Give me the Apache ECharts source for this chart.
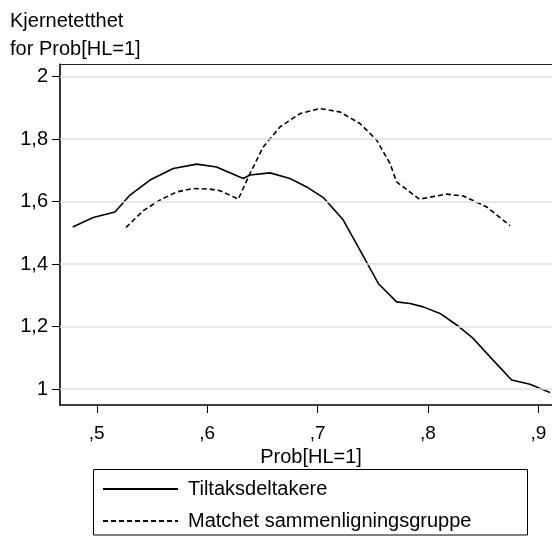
<!DOCTYPE html>
<html><head><meta charset="utf-8">
<script src="https://cdn.jsdelivr.net/npm/echarts@6/dist/echarts.min.js"></script>
<style>html,body{margin:0;padding:0;background:#fff}#c{width:552px;height:536px}</style>
</head><body><div id="c"></div>
<script>
const titleLines = ['Kjernetetthet', 'for Prob[HL=1]'];
const xAxisTitle = 'Prob[HL=1]';
const seriesNames = ['Tiltaksdeltakere', 'Matchet sammenligningsgruppe'];
const xTickValues = [0.5, 0.6, 0.7, 0.8, 0.9];
const xTickLabels = [',5', ',6', ',7', ',8', ',9'];
const yTickValues = [1, 1.2, 1.4, 1.6, 1.8, 2];
const yTickLabels = ['1', '1,2', '1,4', '1,6', '1,8', '2'];

const solidX = [0.4782, 0.4968, 0.5165, 0.5301, 0.5482, 0.5693, 0.5905, 0.6086, 0.6116, 0.6327, 0.6388, 0.6569, 0.6750, 0.6901, 0.7052, 0.7233, 0.7384, 0.7550, 0.7716, 0.7837, 0.7957, 0.8109, 0.8260, 0.8410, 0.8562, 0.8758, 0.8924, 0.9105];
const solidY = [1.519, 1.549, 1.567, 1.621, 1.669, 1.706, 1.720, 1.711, 1.706, 1.674, 1.685, 1.692, 1.674, 1.647, 1.613, 1.541, 1.445, 1.338, 1.279, 1.274, 1.263, 1.242, 1.205, 1.162, 1.103, 1.029, 1.015, 0.989];

const dashX = [0.5264, 0.5421, 0.5572, 0.5724, 0.5874, 0.6025, 0.6116, 0.6282, 0.6388, 0.6508, 0.6659, 0.6841, 0.7022, 0.7203, 0.7384, 0.7535, 0.7656, 0.7716, 0.7922, 0.8169, 0.8320, 0.8532, 0.8743];
const dashY = [1.517, 1.571, 1.605, 1.631, 1.642, 1.640, 1.635, 1.608, 1.690, 1.775, 1.839, 1.882, 1.898, 1.887, 1.850, 1.797, 1.722, 1.663, 1.608, 1.624, 1.618, 1.583, 1.523];

const FONT = "'Liberation Sans', Arial, sans-serif";
const xMin = 0.4667, xMax = 0.9214, yMin = 0.9488, yMax = 2.0397;

function lookup(vals, labels) {
  return function (v) {
    for (let i = 0; i < vals.length; i++) if (Math.abs(vals[i] - v) < 1e-9) return labels[i];
    return '';
  };
}

const chart = echarts.init(document.getElementById('c'), null, {renderer: 'canvas'});
chart.setOption({
  animation: false,
  backgroundColor: '#fff',
  title: {
    text: titleLines.join('\n'), left: 10, top: 7, padding: 0,
    textStyle: {fontSize: 20, fontWeight: 'normal', color: '#000', lineHeight: 28, fontFamily: FONT}
  },
  grid: {left: 60, top: 64.3, width: 502, bottom: 131, containLabel: false, outerBoundsMode: 'none'},
  xAxis: [{
    type: 'value', min: xMin, max: xMax, position: 'bottom',
    axisLine: {show: true, lineStyle: {color: '#000', width: 1.6}},
    axisTick: {show: true, customValues: xTickValues, length: 8, lineStyle: {color: '#000', width: 1}},
    axisLabel: {customValues: xTickValues, formatter: lookup(xTickValues, xTickLabels), margin: 19, fontSize: 19, color: '#000', fontFamily: FONT},
    splitLine: {show: false},
    name: xAxisTitle, nameLocation: 'middle', nameGap: 33,
    nameTextStyle: {fontSize: 20, color: '#000', fontFamily: FONT}
  }, {
    type: 'value', min: xMin, max: xMax, position: 'top',
    axisLine: {show: true, lineStyle: {color: '#222', width: 1}},
    axisTick: {show: false}, axisLabel: {show: false}, splitLine: {show: false}
  }],
  yAxis: {
    type: 'value', min: yMin, max: yMax,
    axisLine: {show: true, lineStyle: {color: '#000', width: 1.6}},
    axisTick: {show: true, customValues: yTickValues, length: 8, lineStyle: {color: '#000', width: 1}},
    axisLabel: {customValues: yTickValues, formatter: lookup(yTickValues, yTickLabels), margin: 12, fontSize: 20, color: '#000', fontFamily: FONT},
    splitLine: {show: false}
  },
  legend: {
    data: seriesNames, orient: 'vertical', left: 102, top: 479, padding: 0,
    itemWidth: 75, itemHeight: 20, itemGap: 12,
    itemStyle: {opacity: 0},
    textStyle: {fontSize: 20, color: '#000', fontFamily: FONT, lineHeight: 20, padding: [0, 0, 0, 5]}
  },
  graphic: [{
    type: 'rect', shape: {x: 93.5, y: 469.5, width: 434, height: 65.5},
    style: {fill: 'none', stroke: '#000', lineWidth: 1}
  }],
  series: [{
    name: 'grid', type: 'line', data: [], z: 1, silent: true,
    markLine: {
      silent: true, symbol: ['none', 'none'], label: {show: false},
      lineStyle: {color: '#e0e0e0', width: 1.6, type: 'solid'},
      data: yTickValues.map(v => ({yAxis: v}))
    }
  }, {
    name: seriesNames[0], type: 'line', symbol: 'none', z: 3, silent: true,
    data: solidX.map((x, i) => [x, solidY[i]]),
    lineStyle: {color: '#000', width: 1.6, type: 'solid'},
    itemStyle: {color: '#000'}
  }, {
    name: seriesNames[1], type: 'line', symbol: 'none', z: 3, silent: true,
    data: dashX.map((x, i) => [x, dashY[i]]),
    lineStyle: {color: '#000', width: 1.6, type: [5, 3]},
    itemStyle: {color: '#000'}
  }]
});
</script></body></html>
